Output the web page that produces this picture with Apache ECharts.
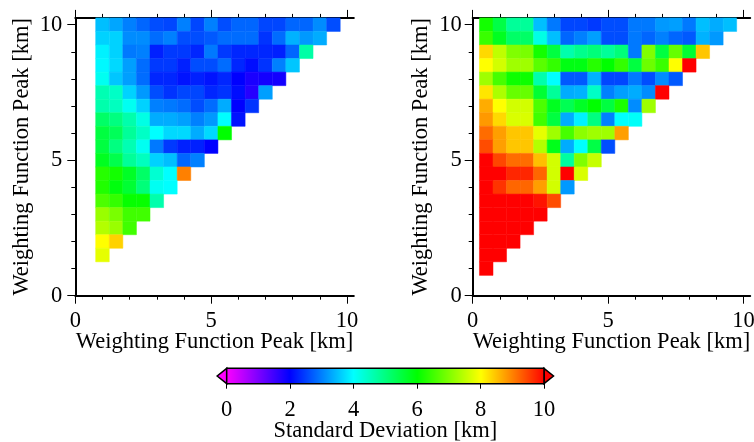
<!DOCTYPE html>
<html>
<head>
<meta charset="utf-8">
<script src="https://cdn.jsdelivr.net/npm/echarts@6/dist/echarts.min.js"></script>
<style>
  html, body { margin: 0; padding: 0; background: #ffffff; }
  #chart { width: 754px; height: 442px; }
</style>
</head>
<body>
<div id="chart"></div>
<script>
// Row centres (km) of the cell grid, top row first.
const peakRowsKm = [10.0, 9.5, 9.0, 8.5, 8.0, 7.5, 7.0, 6.5, 6.0, 5.5, 5.0, 4.5, 4.0, 3.5, 3.0, 2.5, 2.0, 1.5, 1.0];
const columnStepKm = 0.5;
const leftFirstColumnKm = 1.0;
const rightFirstColumnKm = 0.5;

// Standard deviation [km], one list per row (row 10 km first), columns left to right.
const leftStdKm = [
  [3.5, 3.3, 3.0, 2.8, 2.6, 2.55, 3.0, 2.55, 3.0, 2.6, 2.8, 2.8, 2.55, 2.55, 2.8, 2.8, 3.1, 2.6],
  [3.65, 3.65, 3.1, 3.1, 2.85, 3.0, 2.6, 2.6, 2.7, 2.85, 2.85, 2.85, 2.4, 2.85, 3.4, 3.2, 3.35],
  [3.9, 3.65, 2.95, 3.0, 2.25, 2.45, 2.45, 2.3, 2.95, 2.45, 2.3, 2.3, 2.3, 2.25, 2.8, 4.7],
  [3.95, 3.7, 3.25, 2.85, 2.45, 2.45, 2.25, 2.6, 2.6, 2.85, 2.3, 2.1, 2.4, 3.0, 3.55],
  [4.1, 3.55, 3.25, 2.85, 2.3, 2.3, 2.15, 2.25, 2.15, 2.3, 2.0, 1.8, 1.85, 1.85],
  [4.6, 4.45, 3.65, 3.2, 2.6, 2.4, 2.55, 2.55, 2.3, 2.4, 2.1, 1.7, 3.25],
  [4.65, 4.5, 4.1, 3.65, 3.0, 2.95, 2.85, 2.6, 2.85, 3.35, 2.0, 2.4],
  [5.2, 5.0, 4.65, 4.2, 3.35, 3.35, 3.25, 3.0, 3.2, 4.0, 2.15],
  [5.5, 5.3, 4.8, 4.45, 4.0, 3.7, 3.7, 3.35, 3.7, 6.0],
  [5.5, 5.0, 4.6, 4.1, 2.95, 2.45, 2.25, 2.25, 2.0],
  [5.75, 5.4, 4.8, 4.5, 3.65, 3.5, 2.8, 3.0],
  [6.3, 6.15, 5.7, 5.2, 4.35, 4.0, 9.0],
  [6.25, 5.9, 5.6, 5.05, 4.1, 4.0],
  [6.6, 6.4, 6.05, 6.05, 4.65],
  [7.2, 6.95, 6.5, 6.5],
  [7.4, 7.2, 6.5],
  [8.0, 8.35],
  [7.8]
];

const rightStdKm = [
  [6.15, 5.45, 4.8, 4.8, 3.5, 2.95, 2.55, 2.55, 2.45, 2.6, 2.6, 2.95, 2.95, 3.2, 3.25, 2.95, 3.5, 3.35, 3.5],
  [6.45, 5.75, 5.2, 5.2, 4.2, 3.5, 2.8, 3.0, 3.25, 2.6, 2.6, 2.95, 2.8, 3.0, 2.8, 2.7, 3.4, 3.2],
  [8.3, 7.5, 7.0, 6.95, 6.15, 5.5, 4.65, 4.9, 5.05, 4.8, 5.05, 2.95, 7.0, 5.5, 6.8, 5.6, 8.45],
  [8.0, 7.65, 7.25, 7.25, 6.7, 6.4, 5.85, 5.85, 6.3, 6.0, 6.4, 5.5, 6.85, 6.45, 8.0, 10.0],
  [7.25, 6.55, 6.1, 6.1, 4.65, 4.0, 2.7, 2.7, 3.4, 2.55, 2.55, 2.95, 2.6, 3.1, 2.7],
  [8.2, 7.35, 6.8, 6.8, 5.6, 4.8, 3.35, 3.4, 4.45, 3.0, 3.25, 3.35, 3.1, 10.0],
  [8.65, 8.0, 7.65, 7.65, 6.6, 5.75, 5.35, 5.7, 6.0, 5.5, 6.2, 3.1, 7.25],
  [8.8, 8.3, 7.7, 7.7, 6.5, 5.5, 3.35, 3.9, 5.0, 3.0, 4.0, 4.05],
  [9.15, 8.75, 8.45, 8.45, 7.8, 7.25, 6.55, 7.1, 7.25, 7.25, 8.75],
  [9.4, 8.75, 8.45, 8.45, 7.4, 5.8, 3.35, 4.0, 5.45, 2.6],
  [10.0, 9.45, 9.15, 9.15, 8.5, 7.65, 4.75, 7.0, 7.55],
  [10.0, 10.0, 9.7, 9.7, 9.2, 7.65, 10.0, 7.7],
  [10.0, 9.6, 9.2, 9.2, 8.75, 7.65, 3.2],
  [10.0, 10.0, 10.0, 10.0, 9.85, 9.4],
  [10.0, 10.0, 10.0, 10.0, 10.0],
  [10.0, 10.0, 10.0, 10.0],
  [10.0, 10.0, 10.0],
  [10.0, 10.0],
  [10.0]
];

// Axis annotations and colour scale.
const axisMaxKm = 10.25;
const axisLabelsKm = [0, 5, 10];
const axisMinorTicksKm = [1, 2, 3, 4, 6, 7, 8, 9];
const colorbarTicksKm = [0, 2, 4, 6, 8, 10];
const palette = ['#ff00ff', '#0000ff', '#00ffff', '#00ff00', '#ffff00', '#ff0000'];

const axisTitle = 'Weighting Function Peak [km]';
const colorbarTitle = 'Standard Deviation [km]';

function toCells(rows, firstColumnKm) {
  const cells = [];
  rows.forEach(function (row, i) {
    const y = peakRowsKm[i];
    row.forEach(function (v, j) {
      cells.push([firstColumnKm + j * columnStepKm, y, v]);
    });
  });
  return cells;
}

const FONT = 'Liberation Serif';
const textStyle = { fontFamily: FONT, fontSize: 22.5, color: '#000000' };
const lineOn = { show: true, onZero: false, lineStyle: { color: '#000000', width: 2 } };
const lineOff = { show: false, onZero: false };
const majorTick = { show: true, inside: false, length: 8, customValues: axisLabelsKm, lineStyle: { color: '#000000', width: 1 } };
const minorTick = { show: true, inside: false, length: 4, customValues: axisMinorTicksKm, lineStyle: { color: '#000000', width: 1 } };

function panelAxes(gridIndex, yNameGap, yLabelMargin) {
  const base = { type: 'value', gridIndex: gridIndex, min: 0, max: axisMaxKm, splitLine: { show: false } };
  const x = [
    Object.assign({}, base, {
      position: 'bottom', axisLine: lineOn, axisTick: majorTick,
      axisLabel: Object.assign({ margin: 13.5, customValues: axisLabelsKm }, textStyle),
      name: axisTitle, nameLocation: 'middle', nameGap: 35, nameTextStyle: textStyle, nameMoveOverlap: false
    }),
    Object.assign({}, base, { position: 'bottom', axisLine: lineOff, axisTick: minorTick, axisLabel: { show: false } }),
    Object.assign({}, base, { position: 'top', axisLine: lineOn, axisTick: majorTick, axisLabel: { show: false } }),
    Object.assign({}, base, { position: 'top', axisLine: lineOff, axisTick: minorTick, axisLabel: { show: false } })
  ];
  const y = [
    Object.assign({}, base, {
      position: 'left', axisLine: lineOn, axisTick: majorTick,
      axisLabel: Object.assign({ margin: yLabelMargin, customValues: axisLabelsKm }, textStyle),
      name: axisTitle, nameLocation: 'middle', nameGap: yNameGap, nameTextStyle: textStyle, nameMoveOverlap: false
    }),
    Object.assign({}, base, { position: 'left', axisLine: lineOff, axisTick: minorTick, axisLabel: { show: false } })
  ];
  return { x: x, y: y };
}

const leftAxes = panelAxes(0, 42, 13);
const rightAxes = panelAxes(1, 40, 11);

const CELL_HALF = columnStepKm / 2;
function renderCell(params, api) {
  const x = api.value(0);
  const y = api.value(1);
  const p0 = api.coord([x - CELL_HALF, y + CELL_HALF]);
  const p1 = api.coord([x + CELL_HALF, y - CELL_HALF]);
  const c = api.visual('color');
  return {
    type: 'rect',
    shape: { x: p0[0], y: p0[1], width: p1[0] - p0[0], height: p1[1] - p0[1] },
    style: { fill: c, stroke: c, lineWidth: 0.5 }
  };
}

function renderColorbar(params, api) {
  const lo = api.value(0);
  const hi = api.value(1);
  const tl = api.coord([lo, 1]);
  const br = api.coord([hi, 0]);
  const tipL = api.coord([lo - 0.3, 0.5]);
  const tipR = api.coord([hi + 0.3, 0.5]);
  const stops = palette.map(function (c, i) { return { offset: i / (palette.length - 1), color: c }; });
  return {
    type: 'group',
    children: [
      {
        type: 'polygon',
        shape: { points: [[tl[0], tl[1]], [tipL[0], tipL[1]], [tl[0], br[1]]] },
        style: { fill: palette[0], stroke: '#000000', lineWidth: 1.5 }
      },
      {
        type: 'polygon',
        shape: { points: [[br[0], tl[1]], [tipR[0], tipR[1]], [br[0], br[1]]] },
        style: { fill: palette[palette.length - 1], stroke: '#000000', lineWidth: 1.5 }
      },
      {
        type: 'rect',
        shape: { x: tl[0], y: tl[1], width: br[0] - tl[0], height: br[1] - tl[1] },
        style: {
          fill: new echarts.graphic.LinearGradient(0, 0, 1, 0, stops),
          stroke: '#000000', lineWidth: 1.5
        }
      }
    ]
  };
}

const chart = echarts.init(document.getElementById('chart'), null, { renderer: 'canvas' });

chart.setOption({
  animation: false,
  backgroundColor: '#ffffff',
  grid: [
    { left: 75.3, top: 17.9, width: 278.5, height: 277.8, outerBoundsMode: 'none' },
    { left: 472.7, top: 17.9, width: 277.5, height: 277.8, outerBoundsMode: 'none' },
    { left: 226.7, top: 368.3, width: 317.3, height: 15.4, outerBoundsMode: 'none' }
  ],
  xAxis: leftAxes.x.concat(rightAxes.x).concat([
    {
      type: 'value', gridIndex: 2, min: colorbarTicksKm[0], max: colorbarTicksKm[colorbarTicksKm.length - 1],
      position: 'bottom', splitLine: { show: false }, axisLine: lineOff,
      axisTick: { show: true, inside: false, length: 5, customValues: colorbarTicksKm, lineStyle: { color: '#000000', width: 1 } },
      axisLabel: Object.assign({ margin: 15, customValues: colorbarTicksKm }, textStyle),
      name: colorbarTitle, nameLocation: 'middle', nameGap: 36, nameTextStyle: textStyle, nameMoveOverlap: false
    }
  ]),
  yAxis: leftAxes.y.concat(rightAxes.y).concat([
    { type: 'value', gridIndex: 2, min: 0, max: 1, show: false }
  ]),
  visualMap: {
    type: 'continuous',
    show: false,
    min: colorbarTicksKm[0],
    max: colorbarTicksKm[colorbarTicksKm.length - 1],
    dimension: 2,
    seriesIndex: [0, 1],
    inRange: { color: palette }
  },
  series: [
    {
      type: 'custom', xAxisIndex: 0, yAxisIndex: 0,
      renderItem: renderCell, data: toCells(leftStdKm, leftFirstColumnKm)
    },
    {
      type: 'custom', xAxisIndex: 4, yAxisIndex: 2,
      renderItem: renderCell, data: toCells(rightStdKm, rightFirstColumnKm)
    },
    {
      type: 'custom', xAxisIndex: 8, yAxisIndex: 4, clip: false,
      renderItem: renderColorbar,
      data: [[colorbarTicksKm[0], colorbarTicksKm[colorbarTicksKm.length - 1]]]
    }
  ]
});
</script>
</body>
</html>
